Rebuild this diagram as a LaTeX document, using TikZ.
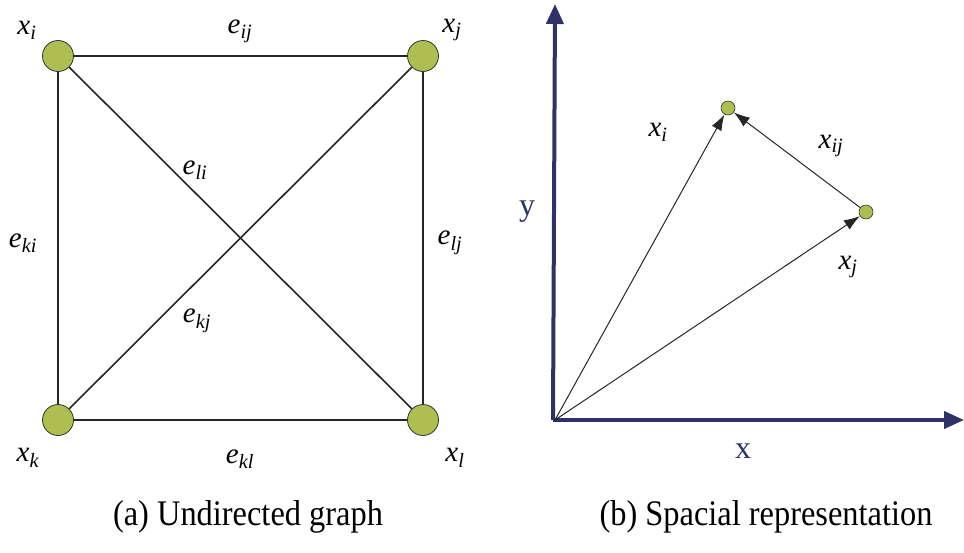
\documentclass[tikz,border=0pt]{standalone}
\usepackage{graphicx}
\usepackage{fontspec}
\setmainfont{Liberation Serif}
\usetikzlibrary{arrows.meta}
\definecolor{vert}{RGB}{174,190,80}
\definecolor{navy}{RGB}{46,50,102}
\newcommand\lab[2]{\textit{#1}\textsubscript{\textit{#2}}}
\newcommand\capbox[1]{\scalebox{0.9}[1]{#1}}
\tikzset{
  vtx/.style={circle,draw=black!80,line width=0.8pt,fill=vert,minimum size=31pt,inner sep=0pt},
  pt/.style={circle,draw=black!80,line width=0.6pt,fill=vert,minimum size=14pt,inner sep=0pt},
  edge/.style={line width=1.6pt,black!85},
  vec/.style={line width=1pt,black!85,-{Latex[length=16pt,width=11pt]}},
  axis/.style={line width=4pt,navy,-{Triangle[length=20pt,width=17pt]}},
  txt/.style={font=\fontsize{29}{32}\selectfont,inner sep=0pt},
  axtxt/.style={font=\fontsize{32}{34}\selectfont,text=navy,inner sep=0pt},
  captxt/.style={font=\fontsize{36}{40}\selectfont,inner sep=0pt},
}
\begin{document}
\begin{tikzpicture}[x=1pt,y=-1pt]
\useasboundingbox (0,0) rectangle (964,552);
% (a) graph
\node[vtx] (xi) at (58,56) {};
\node[vtx] (xj) at (423,56) {};
\node[vtx] (xk) at (58,420) {};
\node[vtx] (xl) at (423,420) {};
\draw[edge] (xi) -- (xj);
\draw[edge] (xk) -- (xl);
\draw[edge] (xi) -- (xk);
\draw[edge] (xj) -- (xl);
\draw[edge] (xi) -- (xl);
\draw[edge] (xj) -- (xk);
\node[txt] (lxi) at (27,30) {\lab{x}{i}};
\node[txt] (lxj) at (452,30) {\lab{x}{j}};
\node[txt] (lxk) at (28,458) {\lab{x}{k}};
\node[txt] (lxl) at (455,458) {\lab{x}{l}};
\node[txt] (eij) at (240,31) {\lab{e}{ij}};
\node[txt] (eli) at (195,170) {\lab{e}{li}};
\node[txt] (eki) at (23,243) {\lab{e}{ki}};
\node[txt] (elj) at (450,243) {\lab{e}{lj}};
\node[txt] (ekj) at (197,321) {\lab{e}{kj}};
\node[txt] (ekl) at (240,459) {\lab{e}{kl}};
% (b) spatial
\coordinate (o) at (555,420);
\coordinate (ytip) at (555,4);
\coordinate (xtip) at (964,420);
\draw[axis] (553,420) -- (ytip);
\draw[axis] (553,420) -- (xtip);
\node[pt] (p1) at (728,108) {};
\node[pt] (p2) at (866,212) {};
\draw[vec] (o) -- (p1);
\draw[vec] (o) -- (p2);
\draw[vec] (p2) -- (p1);
\node[txt] (lpi) at (658,132) {\lab{x}{i}};
\node[txt] (lpij) at (831,146) {\lab{x}{ij}};
\node[txt] (lpj) at (848,267) {\lab{x}{j}};
\node[axtxt] (ly) at (527,212) {y};
\node[axtxt] (lx) at (743,451) {x};
% captions
\node[captxt] (capa) at (248,517) {\capbox{(a) Undirected graph}};
\node[captxt] (capb) at (766,517) {\capbox{(b) Spacial representation}};
\end{tikzpicture}
\end{document}
